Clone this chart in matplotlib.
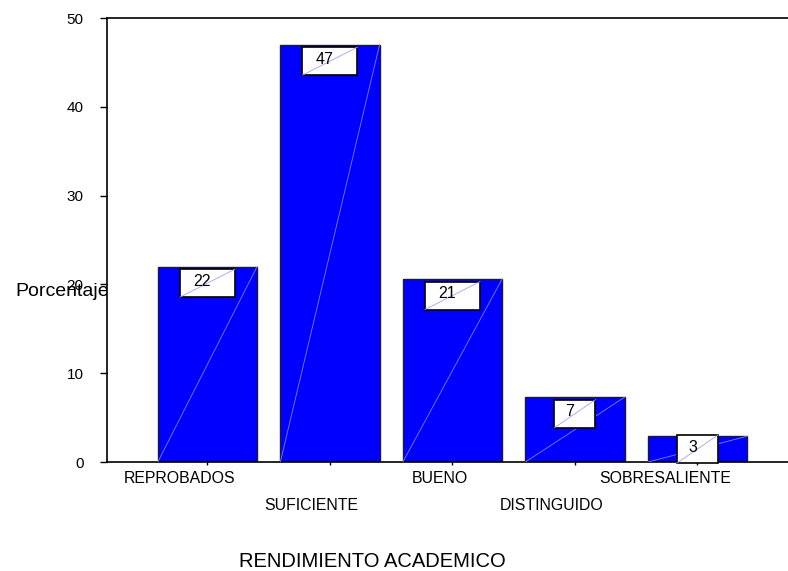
import matplotlib.pyplot as plt
from matplotlib.patches import Rectangle
from matplotlib.lines import Line2D
from matplotlib.transforms import IdentityTransform

plt.rcParams['font.family'] = ['Liberation Sans', 'DejaVu Sans']

categories = ["REPROBADOS", "SUFICIENTE", "BUENO", "DISTINGUIDO", "SOBRESALIENTE"]
percentages = [22.0, 47.0, 20.6, 7.3, 2.9]
yticks = [0, 10, 20, 30, 40, 50]

# horizontal nudge (px) of each category label, labels alternate between two rows
label_dx = [-27.5, -19, -12.5, -23, -32.5]

W, H = 788, 571
fig = plt.figure(figsize=(W / 100, H / 100), dpi=100)
ax = fig.add_axes([107 / W, 109 / H, 713 / W, 444 / H])
ax.set_facecolor("white")

bar_w = 0.81
x = list(range(len(categories)))
ax.bar(x, percentages, width=bar_w, color="#0000ff", edgecolor="#1a1a3a",
       linewidth=1.0, zorder=2)

# thin diagonal highlight across each bar
for xi, v in zip(x, percentages):
    ax.plot([xi - bar_w / 2, xi + bar_w / 2], [0, v], color="#8080ff",
            lw=0.6, zorder=3)

ax.set_xlim(-0.82, 5.0)
ax.set_ylim(0, 50)
ax.set_yticks(yticks)
ax.set_xticks(x)
ax.set_xticklabels([""] * len(x))

ax.spines["right"].set_visible(False)
for side in ["left", "bottom", "top"]:
    ax.spines[side].set_linewidth(1.2)
    ax.spines[side].set_color("black")

ax.tick_params(axis="y", direction="out", length=5, width=1, pad=12, labelsize=11)
ax.tick_params(axis="x", direction="out", length=2.5, width=1)

# staggered category labels
for i, name in enumerate(categories):
    dy = -15 if i % 2 == 0 else -34.5
    ax.annotate(name, xy=(i, 0), xycoords=("data", "axes fraction"),
                xytext=(label_dx[i] * 0.72, dy), textcoords="offset points",
                ha="center", va="baseline", fontsize=11.4, annotation_clip=False)

# value boxes, sized in pixels and hung just below each bar top
for xi, v in zip(x, percentages):
    txt = f"{v:.0f}"
    bw = 55 if len(txt) > 1 else 41
    bh = 28
    xc, ytop = ax.transData.transform((xi, v))
    _, y0 = ax.transData.transform((xi, 0))
    top = ytop - 2.5
    bottom = max(top - bh, y0 - 1)
    top = bottom + bh
    ax.add_patch(Rectangle((xc - bw / 2, bottom), bw, bh, transform=IdentityTransform(),
                           facecolor="white", edgecolor="black", lw=1.2,
                           zorder=4, clip_on=False))
    ax.add_line(Line2D([xc - bw / 2, xc + bw / 2], [bottom, top],
                       transform=IdentityTransform(), color="#a0a0ff", lw=0.6,
                       zorder=5, clip_on=False))
    ax.text(xc - 5, (bottom + top) / 2 - 2.5, txt, transform=IdentityTransform(),
            ha="center", va="baseline", fontsize=11.5, zorder=6, clip_on=False)

# axis titles; the y title sits behind the plot area
fig.text(15 / W, 275 / H, "Porcentaje", ha="left", va="baseline",
         fontsize=14, zorder=-1)
fig.text(372.5 / W, 4.3 / H, "RENDIMIENTO ACADEMICO", ha="center",
         va="baseline", fontsize=14.5)

fig.savefig("out.png", dpi=100)
